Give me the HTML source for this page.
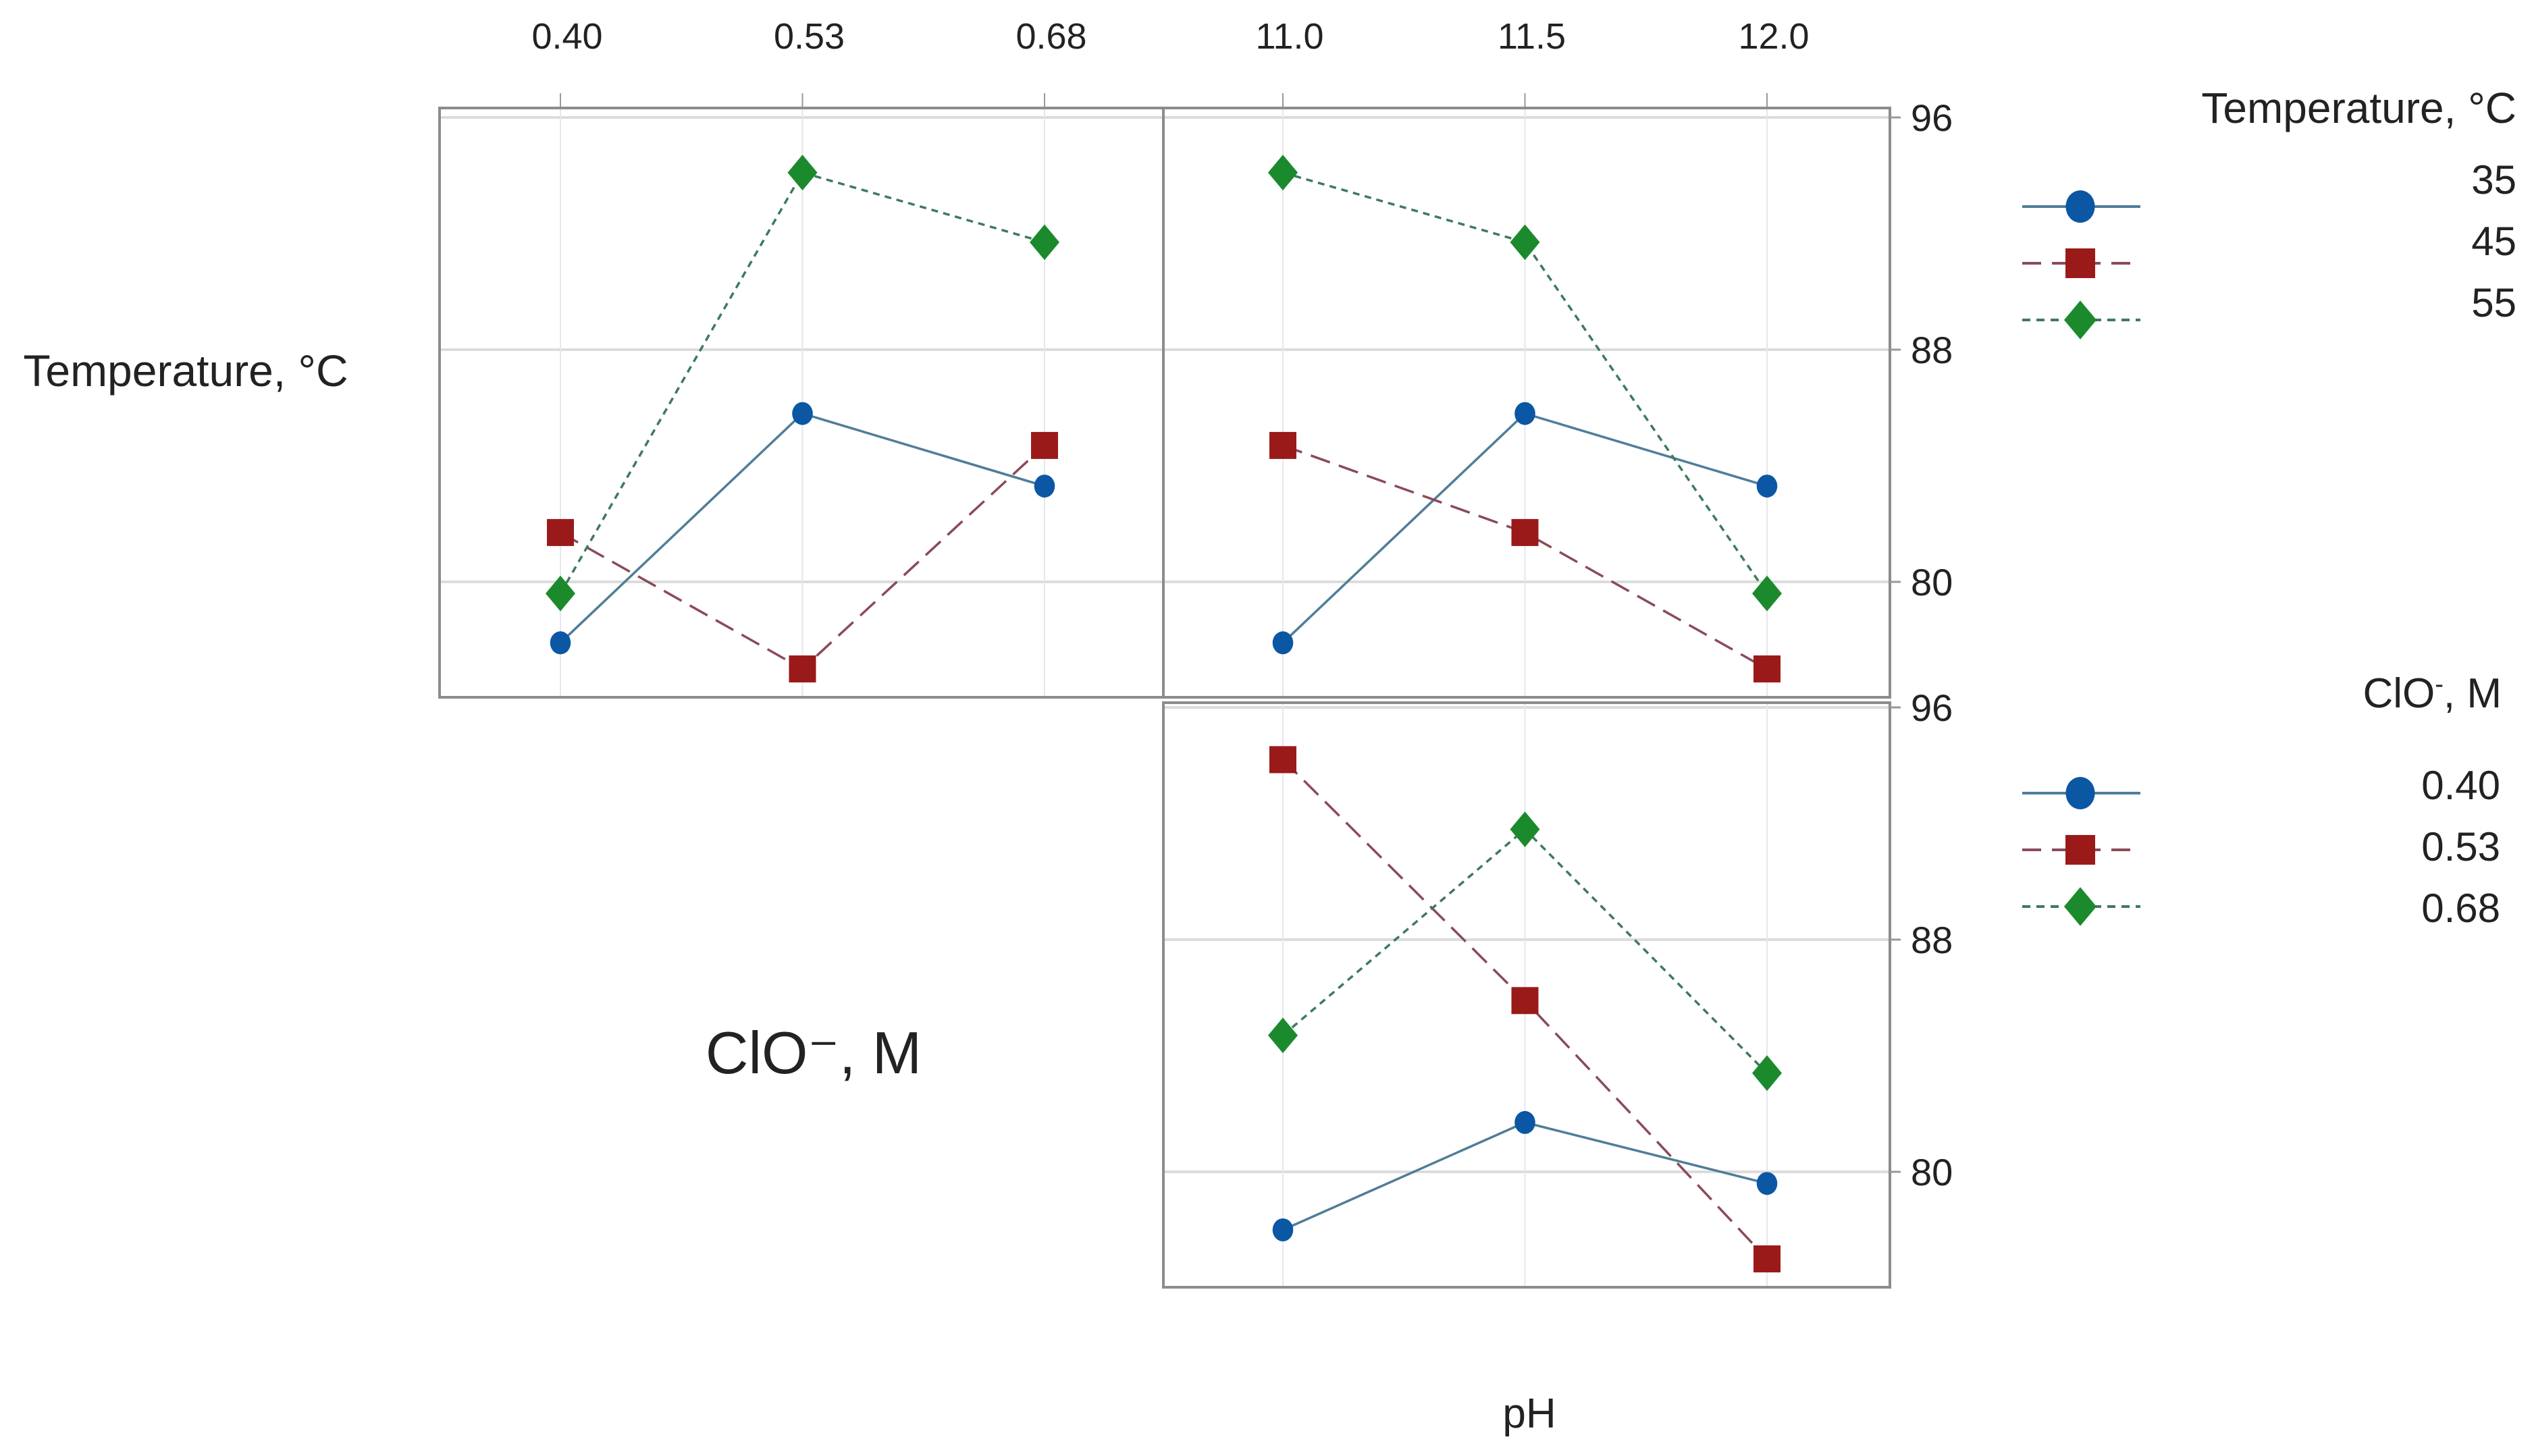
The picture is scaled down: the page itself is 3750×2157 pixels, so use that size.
<!DOCTYPE html>
<html><head><meta charset="utf-8"><style>
html,body{margin:0;padding:0;background:#fff}
svg{display:block}
text{font-family:"Liberation Sans",sans-serif;fill:#222}
</style></head><body>
<svg id="c" width="3750" height="2157" viewBox="0 0 3750 2157">
<g id="frames"></g>
<g id="marks"></g>
<text x="275" y="572" font-size="66" text-anchor="middle">Temperature, °C</text>
<text x="1205" y="1590" font-size="88" text-anchor="middle">ClO⁻, M</text>
<text x="2265" y="2115" font-size="62" text-anchor="middle">pH</text>
<text x="3727" y="182" font-size="64" text-anchor="end">Temperature, °C</text>
<text x="3705" y="1048" font-size="62" text-anchor="end">ClO<tspan font-size="38" dy="-22">-</tspan><tspan dy="22">, M</tspan></text>
</svg>
<script>
const ns='http://www.w3.org/2000/svg';
const cloTicks=['0.40','0.53','0.68'];
const phTicks=['11.0','11.5','12.0'];
const yTicks=[96,88,80];
const tempLevels=['35','45','55'];
const cloLevels=['0.40','0.53','0.68'];
// panel 1: response vs ClO, series by temperature
const p1T35=[77.9,85.8,83.3];
const p1T45=[81.7,77.0,84.7];
const p1T55=[79.6,94.1,91.7];
// panel 2: response vs pH, series by temperature
const p2T35=[77.9,85.8,83.3];
const p2T45=[84.7,81.7,77.0];
const p2T55=[94.1,91.7,79.6];
// panel 3: response vs pH, series by ClO
const p3C040=[78.0,81.7,79.6];
const p3C053=[94.2,85.9,77.0];
const p3C068=[84.7,91.8,83.4];

const colors=['#0b57a4','#9a1a1a','#1b8a2c'];
const lineCol=['#4f7d99','#8a4a58','#3e7a5c'];
const dashes=['none','30,14','10,8'];
const shapes=['circle','square','diamond'];
const frames=document.getElementById('frames');
const marks=document.getElementById('marks');
function el(t,a,p){const e=document.createElementNS(ns,t);for(const k in a)e.setAttribute(k,a[k]);(p||marks).appendChild(e);return e;}
const panels=[
 {x0:651,x1:1723,y0:160,y1:1033,ref:174,cats:cloTicks,series:[p1T35,p1T45,p1T55],name:'clo-temperature-panel',xc0:830},
 {x0:1723,x1:2799,y0:160,y1:1033,ref:174,cats:phTicks,series:[p2T35,p2T45,p2T55],name:'ph-temperature-panel',xc0:1900},
 {x0:1723,x1:2799,y0:1041,y1:1907,ref:1048,cats:phTicks,series:[p3C040,p3C053,p3C068],name:'ph-clo-panel',xc0:1900}
];
const step=358.5, ppu=43;
function marker(shape,cx,cy,s,col,name){
 let e;
 if(shape==='circle')e=el('ellipse',{cx:cx,cy:cy,rx:s*0.9,ry:s,fill:col});
 else if(shape==='square')e=el('rect',{x:cx-s,y:cy-s,width:2*s,height:2*s,fill:col});
 else e=el('polygon',{points:`${cx},${cy-s*1.2} ${cx+s},${cy} ${cx},${cy+s*1.2} ${cx-s},${cy}`,fill:col});
 
 
 return e;
}
panels.forEach((p,pi)=>{
 const xs=i=>p.xc0+i*step;
 const ys=v=>p.ref+(96-v)*ppu;
 yTicks.forEach(t=>{
  const l=el('line',{x1:p.x0,x2:p.x1,y1:ys(t),y2:ys(t),stroke:'#dcdcdc','stroke-width':4},frames);
  
  
 });
 p.cats.forEach((c,i)=>{
  const l=el('line',{x1:xs(i),x2:xs(i),y1:p.y0,y2:p.y1,stroke:'#e6e6ee','stroke-width':2},frames);
  
  
  if(pi<2){
   const tk=el('line',{x1:xs(i),x2:xs(i),y1:138,y2:p.y0,stroke:'#999','stroke-width':2},frames);
   
   
   const tx=el('text',{x:xs(i)+10,y:72,'font-size':54,'text-anchor':'middle'},frames);
   tx.textContent=c;
   
   
  }
 });
 const r=el('rect',{x:p.x0,y:p.y0,width:p.x1-p.x0,height:p.y1-p.y0,fill:'none',stroke:'#8c8c8c','stroke-width':4},frames);
 
 
 if(pi>0){
  yTicks.forEach(t=>{
   const tk=el('line',{x1:2799,x2:2815,y1:ys(t),y2:ys(t),stroke:'#999','stroke-width':3},frames);
   
   
   const tx=el('text',{x:2830,y:ys(t)+20,'font-size':56},frames);
   tx.textContent=t;
   
   
  });
 }
 p.series.forEach((vals,si)=>{
  const pts=vals.map((v,i)=>xs(i)+','+ys(v)).join(' ');
  const pl=el('polyline',{points:pts,fill:'none',stroke:lineCol[si],'stroke-width':3.5,'stroke-dasharray':dashes[si]});
  
  
  vals.forEach((v,i)=>marker(shapes[si],xs(i),ys(v),si===1?20:(si===2?22:17),colors[si],'data-point'));
 });
});
function legend(y0,ty0,labels,lx){
 labels.forEach((lab,i)=>{
  const y=y0+i*84;
  const l=el('line',{x1:2995,x2:3170,y1:y,y2:y,stroke:lineCol[i],'stroke-width':4,'stroke-dasharray':i===0?'none':(i===1?'28,16':'12,9')});
  
  
  marker(shapes[i],3081,y,i===0?24:(i===1?22:24),colors[i],'legend-marker');
  const t=el('text',{x:lx,y:ty0+i*91,'font-size':60,'text-anchor':'end'});
  t.textContent=lab;
  
  
 });
}
legend(306,287,tempLevels,3727);
legend(1175,1184,cloLevels,3703);
</script>
</body></html>
